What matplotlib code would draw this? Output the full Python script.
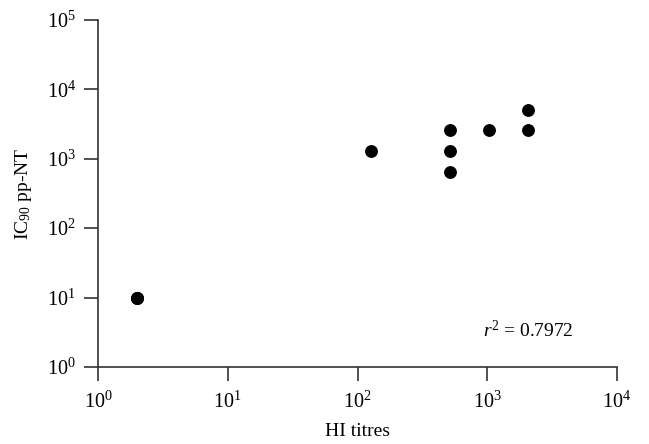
import matplotlib
matplotlib.use("Agg")
import matplotlib.pyplot as plt

# HI titres vs IC90 pp-NT
hi_titres = [2, 2, 2, 128, 512, 512, 512, 1024, 2048, 2048]
ic90 = [10, 10, 10, 1280, 2560, 1280, 640, 2560, 5120, 2560]

plt.rcParams["font.family"] = ["Liberation Serif", "DejaVu Serif"]
plt.rcParams["mathtext.fontset"] = "custom"
plt.rcParams["mathtext.rm"] = "Liberation Serif"
plt.rcParams["mathtext.it"] = "Liberation Serif:italic"

fig = plt.figure(figsize=(6.49, 4.44), dpi=100)
ax = fig.add_axes([98 / 649, 1 - 367 / 444, 519 / 649, 347 / 444])

ax.scatter(hi_titres, ic90, s=68, color="black", zorder=3, clip_on=False)
ax.set_xscale("log")
ax.set_yscale("log")
ax.set_xlim(1, 1e4)
ax.set_ylim(1, 1e5)
ax.minorticks_off()

for side in ["top", "right"]:
    ax.spines[side].set_visible(False)
for side in ["left", "bottom"]:
    ax.spines[side].set_linewidth(1.2)
    ax.spines[side].set_color("#333333")

ax.tick_params(axis="both", which="major", direction="out", length=10, width=1.2,
               color="#333333", labelsize=14.5, pad=6)
ax.tick_params(axis="x", pad=8)

ax.set_xlabel("HI titres", fontsize=14, labelpad=7)
ax.set_ylabel("IC$_{90}$ pp-NT", fontsize=14, labelpad=9)

ax.text(0.742, 0.104, "$r^2$ = 0.7972", transform=ax.transAxes, fontsize=14,
        ha="left", va="center")

plt.savefig("out.png", dpi=100)
plt.close()
